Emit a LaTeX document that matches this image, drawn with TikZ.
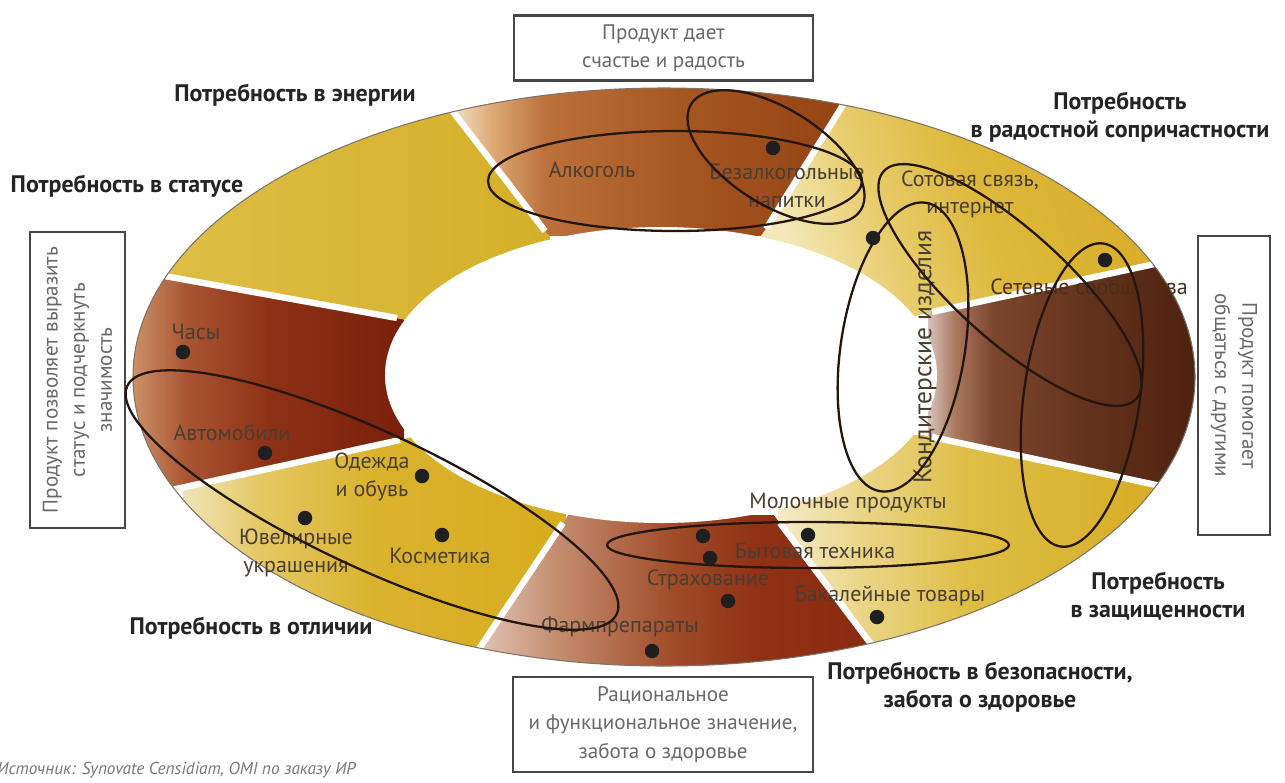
\documentclass[tikz,border=0pt]{standalone}
\usepackage{fontspec}
\setmainfont{PT Sans}
\usetikzlibrary{calc}
\definecolor{lblc}{RGB}{38,36,34}
\definecolor{itemc}{RGB}{72,62,50}
\definecolor{hidc}{RGB}{75,45,28}
\definecolor{boxc}{RGB}{70,70,70}
\definecolor{boxtxt}{RGB}{105,105,105}
\definecolor{srcc}{RGB}{120,120,120}
\definecolor{ovalc}{RGB}{35,22,15}
\definecolor{rimc}{RGB}{125,115,105}
% segment A (top brown)
\definecolor{a0}{RGB}{245,228,205}\definecolor{a1}{RGB}{222,172,120}\definecolor{a2}{RGB}{188,112,58}\definecolor{a3}{RGB}{165,85,32}\definecolor{a4}{RGB}{148,66,20}
% segment B (top right pale yellow)
\definecolor{b0}{RGB}{244,232,185}\definecolor{b1}{RGB}{232,205,110}\definecolor{b2}{RGB}{222,185,60}\definecolor{b3}{RGB}{215,172,40}
% segment C (right dark)
\definecolor{c0}{RGB}{215,195,185}\definecolor{c1}{RGB}{170,120,95}\definecolor{c2}{RGB}{125,70,45}\definecolor{c3}{RGB}{100,50,28}\definecolor{c4}{RGB}{78,33,16}
% segment D (lower right yellow)
\definecolor{d0}{RGB}{245,235,200}\definecolor{d1}{RGB}{235,215,140}\definecolor{d2}{RGB}{222,190,70}\definecolor{d3}{RGB}{215,172,35}
% segment E (bottom red brown)
\definecolor{e0}{RGB}{225,195,180}\definecolor{e1}{RGB}{195,140,110}\definecolor{e2}{RGB}{160,75,40}\definecolor{e3}{RGB}{145,50,22}\definecolor{e4}{RGB}{138,42,16}
% segment F (lower left yellow)
\definecolor{f0}{RGB}{240,228,185}\definecolor{f1}{RGB}{228,200,100}\definecolor{f2}{RGB}{218,178,45}\definecolor{f3}{RGB}{215,172,30}
% segment G (left brown)
\definecolor{g0}{RGB}{205,145,105}\definecolor{g1}{RGB}{168,85,50}\definecolor{g2}{RGB}{142,50,22}\definecolor{g3}{RGB}{122,32,10}
% segment H (upper left yellow)
\definecolor{h0}{RGB}{222,190,70}\definecolor{h1}{RGB}{212,175,40}

\pgfdeclarehorizontalshading{shA}{100bp}{color(0bp)=(a0); color(25bp)=(a0); color(30bp)=(a1); color(37bp)=(a2); color(55bp)=(a3); color(75bp)=(a4); color(100bp)=(a4)}
\pgfdeclarehorizontalshading{shB}{100bp}{color(0bp)=(b0); color(25bp)=(b0); color(38bp)=(b1); color(52bp)=(b2); color(75bp)=(b3); color(100bp)=(b3)}
\pgfdeclarehorizontalshading{shC}{100bp}{color(0bp)=(c0); color(25bp)=(c0); color(30bp)=(c1); color(37bp)=(c2); color(55bp)=(c3); color(75bp)=(c4); color(100bp)=(c4)}
\pgfdeclarehorizontalshading{shD}{100bp}{color(0bp)=(d0); color(25bp)=(d0); color(35bp)=(d1); color(50bp)=(d2); color(75bp)=(d3); color(100bp)=(d3)}
\pgfdeclarehorizontalshading{shE}{100bp}{color(0bp)=(e0); color(25bp)=(e0); color(35bp)=(e1); color(50bp)=(e2); color(60bp)=(e3); color(75bp)=(e4); color(100bp)=(e4)}
\pgfdeclarehorizontalshading{shF}{100bp}{color(0bp)=(f0); color(25bp)=(f0); color(35bp)=(f1); color(50bp)=(f2); color(75bp)=(f3); color(100bp)=(f3)}
\pgfdeclarehorizontalshading{shG}{100bp}{color(0bp)=(g0); color(25bp)=(g0); color(35bp)=(g1); color(50bp)=(g2); color(75bp)=(g3); color(100bp)=(g3)}
\pgfdeclarehorizontalshading{shH}{100bp}{color(0bp)=(h0); color(25bp)=(h0); color(75bp)=(h1); color(100bp)=(h1)}

\tikzset{
  lbl/.style={font=\bfseries\fontsize{13.6}{16}\selectfont, text=lblc, align=center, inner sep=0pt},
  item/.style={font=\fontsize{12.5}{15.5}\selectfont, text=itemc, align=center, inner sep=0pt},
  infobox/.style={draw=boxc, line width=1.2pt, text=boxtxt, align=center, font=\fontsize{12}{15.5}\selectfont, inner sep=0pt},
  oval/.style={draw=ovalc, line width=1.3pt},
  dot/.style={circle, fill=black!88, inner sep=0pt, minimum size=0.29cm},
  sep/.style={draw=white, line width=3.6pt},
}

\begin{document}
\begin{tikzpicture}[x=0.02cm, y=-0.02cm]
\useasboundingbox (0,0) rectangle (1285,782);
\fill[white] (0,0) rectangle (1285,782);

\coordinate (C) at (661,375);
\coordinate (i1) at (545,231); \coordinate (o1) at (454,113);
\coordinate (i2) at (766,229); \coordinate (o2) at (843,105);
\coordinate (i3) at (932,312); \coordinate (o3) at (1150,265);
\coordinate (i4) at (932,437); \coordinate (o4) at (1147,483);
\coordinate (i5) at (780,523); \coordinate (o5) at (868,640);
\coordinate (i6) at (563,523); \coordinate (o6) at (483,643);
\coordinate (i7) at (400,440); \coordinate (o7) at (185,487);
\coordinate (i8) at (397,318); \coordinate (o8) at (170,277);
\foreach \k in {1,...,8} { \coordinate (f\k) at ($(i\k)!3!(o\k)$); }

% ring segments
\begin{scope}
  \clip (664,377) ellipse [x radius=531, y radius=289];
  \begin{scope}\clip (C) -- (i1) -- (f1) -- (f2) -- (i2) -- cycle;
    \shade[shading=shA] (450,85) rectangle (850,235); \end{scope}
  \begin{scope}\clip (C) -- (i2) -- (f2) -- (1600,-150) -- (f3) -- (i3) -- cycle;
    \shade[shading=shB, shading angle=20] (760,95) rectangle (1165,315); \end{scope}
  \begin{scope}\clip (C) -- (i3) -- (f3) -- (f4) -- (i4) -- cycle;
    \shade[shading=shC] (928,260) rectangle (1197,490); \end{scope}
  \begin{scope}\clip (C) -- (i4) -- (f4) -- (1600,900) -- (f5) -- (i5) -- cycle;
    \shade[shading=shD] (778,435) rectangle (1160,645); \end{scope}
  \begin{scope}\clip (C) -- (i5) -- (f5) -- (f6) -- (i6) -- cycle;
    \shade[shading=shE] (480,515) rectangle (870,667); \end{scope}
  \begin{scope}\clip (C) -- (i6) -- (f6) -- (-250,900) -- (f7) -- (i7) -- cycle;
    \shade[shading=shF] (183,437) rectangle (566,647); \end{scope}
  \begin{scope}\clip (C) -- (i7) -- (f7) -- (f8) -- (i8) -- cycle;
    \shade[shading=shG] (132,272) rectangle (404,490); \end{scope}
  \begin{scope}\clip (C) -- (i8) -- (f8) -- (-300,-150) -- (f1) -- (i1) -- cycle;
    \shade[shading=shH] (160,85) rectangle (550,322); \end{scope}
  \foreach \k in {1,...,8} { \draw[sep] (i\k) -- ($(i\k)!1.3!(o\k)$); }
\end{scope}
\draw[rimc, line width=0.6pt] (664,377) ellipse [x radius=531, y radius=289];
\fill[white] (661,375) ellipse [x radius=276, y radius=148];

% boxes
\node[infobox, minimum width=5.98cm, minimum height=1.3cm, font=\fontsize{12}{16}\selectfont] (btop) at (663.5,48) {Продукт дает\\счастье и радость};
\node[infobox, minimum width=6cm, minimum height=1.9cm, font=\fontsize{12}{16.2}\selectfont] (bbot) at (663,724.5) {Рациональное\\и функциональное значение,\\забота о здоровье};
\node[infobox, rotate=90, minimum width=5.92cm, minimum height=1.9cm] (bleft) at (77.5,380) {Продукт позволяет выразить\\статус и подчеркнуть\\значимость};
\node[infobox, rotate=-90, minimum width=5.98cm, minimum height=1.44cm] (bright) at (1234,385.5) {Продукт помогает\\общаться с другими};

% need labels
\node[lbl] (nEnergy) at (295,95) {Потребность в энергии};
\node[lbl] (nStatus) at (127,186) {Потребность в статусе};
\node[lbl] (nJoy) at (1120,117) {Потребность\\в радостной сопричастности};
\node[lbl] (nProt) at (1158,596) {Потребность\\в защищенности};
\node[lbl] (nSafe) at (980,687) {Потребность в безопасности,\\забота о здоровье};
\node[lbl] (nDiff) at (251,628) {Потребность в отличии};

% item labels
\node[item] (tAlc) at (592,170) {Алкоголь};
\node[item] (tSoft) at (787,186) {Безалкогольные\\напитки};
\node[item] (tCell) at (970,194) {Сотовая связь,\\интернет};
\node[item, anchor=west, text=hidc] (tNet) at (990,288) {Сетевые сообщества};
\node[item, rotate=90, font=\fontsize{14.5}{16}\selectfont] (tConf) at (925,357) {Кондитерские изделия};
\node[item] (tWatch) at (196,332) {Часы};
\node[item] (tCar) at (232,433) {Автомобили};
\node[item] (tCloth) at (372,477) {Одежда\\и обувь};
\node[item] (tJew) at (296,553) {Ювелирные\\украшения};
\node[item] (tCosm) at (440,556) {Косметика};
\node[item] (tMilk) at (848,503) {Молочные продукты};
\node[item] (tAppl) at (815,551) {Бытовая техника};
\node[item] (tIns) at (708,580) {Страхование};
\node[item] (tGroc) at (890,596) {Бакалейные товары};
\node[item] (tPharm) at (620,627) {Фармпрепараты};

% ovals
\draw[oval] (675,181) ellipse [x radius=187, y radius=50];
\draw[oval, rotate around={-32:(776,157)}] (776,157) ellipse [x radius=100, y radius=48];
\draw[oval, rotate around={-42:(1010,285)}] (1010,285) ellipse [x radius=170, y radius=55];
\draw[oval, rotate around={-9:(903,347)}] (903,347) ellipse [x radius=62, y radius=146];
\draw[oval, rotate around={-8:(1082,395)}] (1082,395) ellipse [x radius=58, y radius=153];
\draw[oval] (808,545) ellipse [x radius=201, y radius=23];
\draw[oval, rotate around={-25:(372,500)}] (372,500) ellipse [x radius=270, y radius=68];

% dots
\node[dot] (d1) at (773,148) {};
\node[dot] (d2) at (873,238) {};
\node[dot] (d3) at (1105,260) {};
\node[dot] (d4) at (183,352) {};
\node[dot] (d5) at (265,453) {};
\node[dot] (d6) at (422,476) {};
\node[dot] (d7) at (305,518) {};
\node[dot] (d8) at (442,535) {};
\node[dot] (d9) at (703,536) {};
\node[dot] (d10) at (710,558) {};
\node[dot] (d11) at (808,535) {};
\node[dot] (d12) at (728,601) {};
\node[dot] (d13) at (652,651) {};
\node[dot] (d14) at (877,617) {};

% source
\node[anchor=west, inner sep=0pt, text=srcc, font=\itshape\fontsize{9.8}{11}\selectfont] (src) at (-3,770) {Источник: Synovate Censidiam, OMI по заказу ИР};
\end{tikzpicture}
\end{document}
